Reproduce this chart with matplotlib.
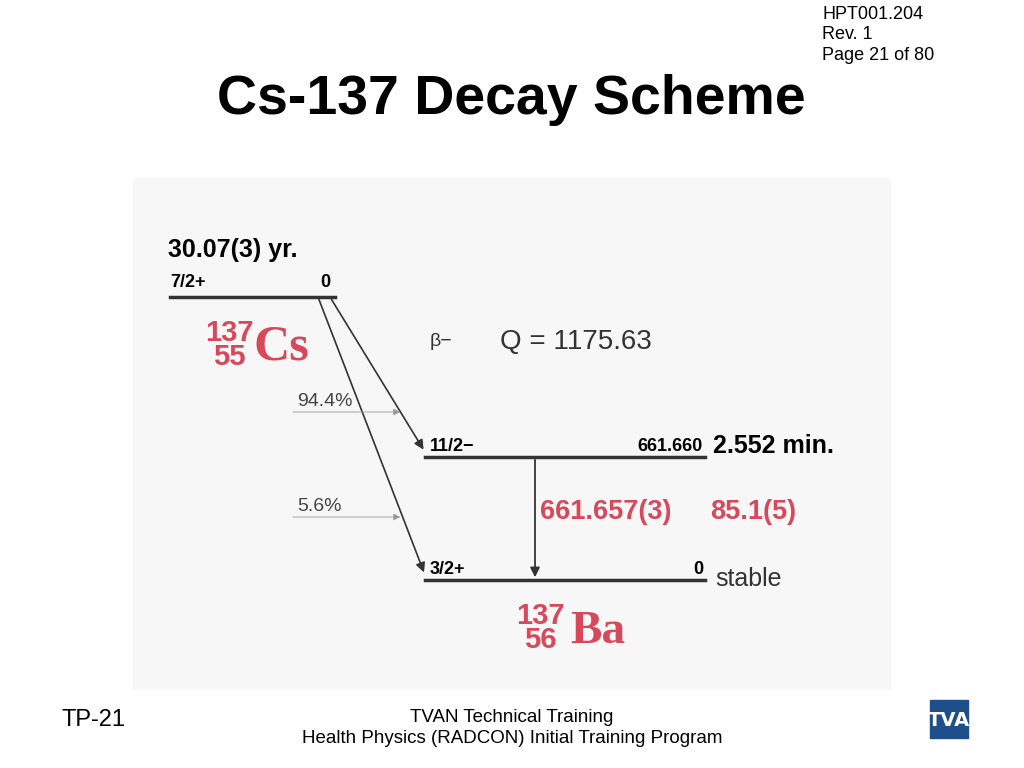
import matplotlib
matplotlib.use("Agg")
import matplotlib.pyplot as plt
from matplotlib.patches import Rectangle
plt.rcParams['font.family'] = ['Liberation Sans', 'DejaVu Sans']

# data
parent_label = ["7/2+", "0"]
half_life = "30.07(3) yr."
q_value = "Q = 1175.63"
levels = ["11/2\u2212", "3/2+"]
level_energy = ["661.660", "0"]
level_note = ["2.552 min.", "stable"]
branch_pct = ["94.4%", "5.6%"]
gamma = ["661.657(3)", "85.1(5)"]

fig = plt.figure(figsize=(10.24, 7.68), dpi=100)
ax = fig.add_axes([0, 0, 1, 1])
ax.set_xlim(0, 1024); ax.set_ylim(768, 0); ax.axis("off")
red = "#d9485a"
ax.add_patch(Rectangle((133, 178), 757, 510, color="#f7f7f7", zorder=0))

ax.text(511, 100, "Cs-137 Decay Scheme", fontsize=40, fontweight="bold", ha="center", va="center")
ax.text(822, 6, "HPT001.204\nRev. 1\nPage 21 of 80", fontsize=13, va="top", linespacing=1.25)
ax.text(62, 720, "TP-21", fontsize=17, va="center")
ax.text(512, 728, "TVAN Technical Training\nHealth Physics (RADCON) Initial Training Program", fontsize=13.5, ha="center", va="center", linespacing=1.3)
ax.add_patch(Rectangle((930, 700), 38, 38, color="#1f4f8a"))
ax.text(949, 720, "TVA", color="white", fontsize=14, fontweight="bold", ha="center", va="center", family="Liberation Sans Narrow")

# parent
ax.text(168, 250, half_life, fontsize=18, fontweight="bold", va="center")
ax.plot([170, 335], [297, 297], color="#333", lw=2.5)
ax.text(170, 287, parent_label[0], fontsize=13, fontweight="bold")
ax.text(320, 287, parent_label[1], fontsize=13, fontweight="bold")
ax.text(229, 345, "137\n55", color=red, fontsize=21, fontweight="bold", ha="center", va="center", linespacing=0.85)
ax.text(253, 347, "Cs", color=red, fontsize=36, fontweight="bold", family="Liberation Serif", va="center")
ax.text(430, 342, "\u03b2\u2212", fontsize=14, va="center", color="#333")
ax.text(500, 342, q_value, fontsize=20, va="center", color="#333")

# daughter levels
ys = [457, 580]
for y, lab, e, n in zip(ys, levels, level_energy, level_note):
    ax.plot([425, 705], [y, y], color="#333", lw=2.5)
    ax.text(430, y - 6, lab, fontsize=13, fontweight="bold")
    ax.text(703, y - 6, e, fontsize=13, fontweight="bold", ha="right")
ax.text(713, 446, level_note[0], fontsize=18, fontweight="bold", va="center")
ax.text(715, 579, level_note[1], fontsize=18, va="center", color="#333")
ax.text(540, 628, "137\n56", color=red, fontsize=21, fontweight="bold", ha="center", va="center", linespacing=0.85)
ax.text(570, 632, "Ba", color=red, fontsize=34, fontweight="bold", family="Liberation Serif", va="center")

# beta arrows
starts = [(330, 297), (318, 297)]
for (x0, y0), y in zip(starts, ys):
    ax.annotate("", xy=(425, y - 5), xytext=(x0, y0),
                arrowprops=dict(arrowstyle="-|>", color="#333", lw=1.2, mutation_scale=14))
for pct, yy, xa in zip(branch_pct, [412, 517], [403, 403]):
    ax.text(297, yy - 6, pct, fontsize=14, color="#444")
    ax.annotate("", xy=(xa, yy), xytext=(290, yy),
                arrowprops=dict(arrowstyle="-|>", color="#999", lw=0.6, mutation_scale=10))

# gamma
ax.annotate("", xy=(535, ys[1]), xytext=(535, ys[0]),
            arrowprops=dict(arrowstyle="-|>", color="#333", lw=1.3, mutation_scale=14))
ax.text(540, 512, gamma[0], color=red, fontsize=19.5, fontweight="bold", va="center")
ax.text(710, 512, gamma[1], color=red, fontsize=19.5, fontweight="bold", va="center")

fig.savefig("out.png", dpi=100)
